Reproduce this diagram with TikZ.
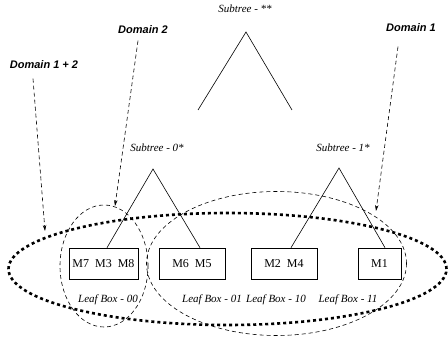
\documentclass[tikz,border=0pt]{standalone}
\usepackage{fontspec}
\setmainfont{Liberation Serif}
\setsansfont{Liberation Sans}
\usetikzlibrary{arrows.meta, positioning, calc}
\tikzset{
  every picture/.style={line width=0.6pt},
  leafbox/.style={draw, minimum height=31pt, inner sep=0pt, font=\fontsize{12}{14}\selectfont},
  subtree/.style={font=\itshape\fontsize{11}{13}\selectfont},
  leaflabel/.style={font=\itshape\fontsize{11}{13}\selectfont},
  domainlabel/.style={font=\sffamily\bfseries\itshape\fontsize{11}{13}\selectfont},
  pointer/.style={-{Stealth[length=6pt, width=3.5pt]}, dash pattern=on 4pt off 3pt},
  group/.style={dash pattern=on 4pt off 3pt},
  allgroup/.style={dash pattern=on 3pt off 3pt, line width=2.6pt},
}

\begin{document}
\begin{tikzpicture}[x=1pt, y=-1pt]
  \useasboundingbox (0,0) rectangle (448,342);
  % leaf boxes
  \node[leafbox, minimum width=69pt] (b00) at (103.5,263.5) {M7\ \ M3\ \ M8};
  \node[leafbox, minimum width=66pt] (b01) at (192,263.5) {M6\ \ M5};
  \node[leafbox, minimum width=66pt] (b10) at (284,263.5) {M2\ \ M4};
  \node[leafbox, minimum width=43pt] (b11) at (379.5,263.5) {M1};
  \foreach \n/\x/\t in {00/108/{Leaf Box - 00}, 01/212/{Leaf Box - 01}, 10/276/{Leaf Box - 10}, 11/348/{Leaf Box - 11}}
    \node[leaflabel] (l\n) at (\x,300) {\t};
  % subtrees
  \node[subtree] (st) at (245,9) {Subtree - **};
  \node[subtree] (st0) at (157,148) {Subtree - 0*};
  \node[subtree] (st1) at (343,148) {Subtree - 1*};
  \coordinate (top) at (246,32);
  \coordinate (topl) at (198,110);
  \coordinate (topr) at (292,110);
  \coordinate (s0) at (153,169);
  \coordinate (s1) at (339,168);
  \draw (topl) -- (top) -- (topr);
  \draw ([xshift=3.5pt]b00.north) -- (s0) -- ([xshift=8pt]b01.north);
  \draw ([xshift=7pt]b10.north) -- (s1) -- ([xshift=5.5pt]b11.north);
  % domains
  \draw[allgroup] (227.5,269) ellipse [x radius=219pt, y radius=56pt];
  \draw[group] (104,266) ellipse [x radius=44pt, y radius=61pt];
  \draw[group] (276.5,263.5) ellipse [x radius=130pt, y radius=72pt];
  \node[domainlabel] (d12) at (44,65) {Domain 1 + 2};
  \node[domainlabel] (d2) at (143,30) {Domain 2};
  \node[domainlabel] (d1) at (411,28) {Domain 1};
  \coordinate (t12) at (45,231);
  \coordinate (t2) at (115,206);
  \coordinate (t1) at (376,211);
  \draw[pointer] ([xshift=-11pt, yshift=-6pt]d12.south) -- (t12);
  \draw[pointer] ([xshift=-5pt, yshift=-3pt]d2.south) -- (t2);
  \draw[pointer] ([xshift=-13pt, yshift=-11pt]d1.south) -- (t1);
\end{tikzpicture}
\end{document}
